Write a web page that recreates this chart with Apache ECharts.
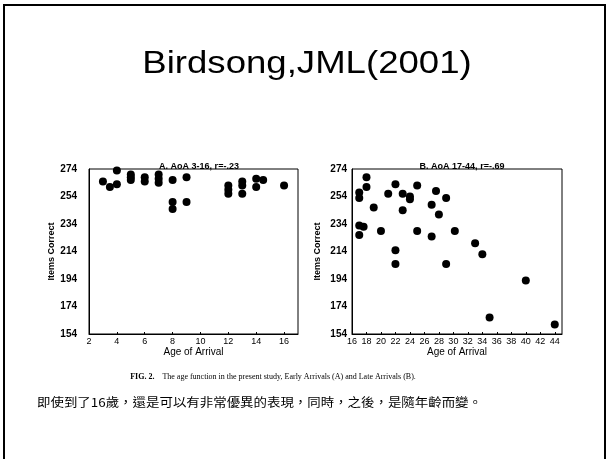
<!DOCTYPE html>
<html><head><meta charset="utf-8">
<script src="https://cdn.jsdelivr.net/npm/echarts@6/dist/echarts.min.js"></script>
<style>html,body{margin:0;padding:0;background:#fff}#c{width:609px;height:459px}</style>
</head><body><div id="c"></div>
<script>
// Panel A: Early arrivals (AoA 3-16)
var earlyAge = [3, 3.5, 4, 4, 5, 5, 5, 6, 6, 7, 7, 7, 8, 8, 8, 9, 9, 12, 12, 12, 13, 13, 13, 14, 14, 14.5, 16];
var earlyScore = [265, 261, 273, 263, 270, 268, 266, 268, 265, 270, 267, 264, 266, 250, 245, 268, 250, 262, 259, 256, 265, 262, 256, 267, 261, 266, 262];
// Panel B: Late arrivals (AoA 17-44)
var lateAge = [17, 17, 18, 18, 19, 17, 17.6, 17, 20, 21, 22, 22, 22, 23, 23, 24, 24, 25, 25, 27, 27, 27.6, 28, 29, 29, 30.2, 33, 34, 35, 40, 44];
var lateScore = [257, 253, 268, 261, 246, 233, 232, 226, 229, 256, 263, 215, 205, 256, 244, 254, 252, 262, 229, 248, 225, 258, 241, 253, 205, 229, 220, 212, 166, 193, 161];

var slideTitle = 'Birdsong,JML(2001)';
var panelTitles = ['A. AoA 3-16, r=-.23', 'B. AoA 17-44, r=-.69'];
var xName = 'Age of Arrival';
var yName = 'Items Correct';
var figCaptionBold = 'FIG. 2.';
var figCaption = 'The age function in the present study, Early Arrivals (A) and Late Arrivals (B).';
var noteText = '即使到了16歲，還是可以有非常優異的表現，同時，之後，是隨年齡而變。';

var yMin = 154, yMax = 274, yStep = 20;

function pairs(xs, ys) { return xs.map(function (x, i) { return [x, ys[i]]; }); }

var chart = echarts.init(document.getElementById('c'), null, {renderer: 'canvas'});
var font = 'Liberation Sans, Arial, sans-serif';
function xAxis(idx, min, max) {
  return {
    type: 'value', gridIndex: idx, min: min, max: max, interval: 2,
    name: xName, nameLocation: 'middle', nameGap: 13,
    nameTextStyle: {fontFamily: font, fontSize: 10, color: '#000'},
    axisLine: {show: true, lineStyle: {color: '#000', width: 1}},
    axisTick: {show: true, inside: true, length: 2, lineStyle: {color: '#000'}},
    axisLabel: {margin: 3, fontFamily: font, fontSize: 9, color: '#000', showMaxLabel: false},
    splitLine: {show: false}
  };
}
function yAxis(idx, margin, gap) {
  return {
    type: 'value', gridIndex: idx, min: yMin, max: yMax, interval: yStep,
    name: yName, nameLocation: 'middle', nameGap: gap, nameRotate: 90,
    nameTextStyle: {fontFamily: font, fontSize: 9, fontWeight: 'bold', color: '#000'},
    axisLine: {show: true, lineStyle: {color: '#000', width: 1}},
    axisTick: {show: false},
    axisLabel: {margin: margin, fontFamily: font, fontSize: 10, fontWeight: 'bold', color: '#000'},
    splitLine: {show: false}
  };
}

chart.setOption({
  animation: false,
  backgroundColor: '#fff',
  title: [
    {text: panelTitles[0], left: 194, top: 157, textAlign: 'center',
     textStyle: {fontFamily: font, fontSize: 9, fontWeight: 'bold', color: '#000'}},
    {text: panelTitles[1], left: 457, top: 157, textAlign: 'center',
     textStyle: {fontFamily: font, fontSize: 9, fontWeight: 'bold', color: '#000'}}
  ],
  grid: [
    {left: 89, top: 169, width: 209, height: 165, show: true, borderColor: '#000', borderWidth: 1, backgroundColor: 'transparent'},
    {left: 352, top: 169, width: 210, height: 165, show: true, borderColor: '#000', borderWidth: 1, backgroundColor: 'transparent'}
  ],
  xAxis: [xAxis(0, 2, 17), xAxis(1, 16, 45)],
  yAxis: [yAxis(0, 12, 28), yAxis(1, 5, 30)],
  series: [
    {type: 'scatter', xAxisIndex: 0, yAxisIndex: 0, data: pairs(earlyAge, earlyScore),
     symbolSize: 8, itemStyle: {color: '#000', opacity: 1}},
    {type: 'scatter', xAxisIndex: 1, yAxisIndex: 1, data: pairs(lateAge, lateScore),
     symbolSize: 8, itemStyle: {color: '#000', opacity: 1}}
  ],
  graphic: [
    {type: 'polyline', shape: {points: [[4, 459], [4, 5], [605, 5], [605, 459]]},
     style: {stroke: '#000', lineWidth: 2, fill: null}},
    {type: 'text', x: 307, y: 64, scaleX: 1.18, originX: 0, originY: 0,
     style: {text: slideTitle, font: '31px Liberation Sans, Arial, sans-serif', fill: '#000', textAlign: 'center', textVerticalAlign: 'middle'}},
    {type: 'text', x: 273, y: 377,
     style: {text: '{b|' + figCaptionBold + '}    ' + figCaption, textAlign: 'center', textVerticalAlign: 'middle',
       font: '8px Liberation Serif, Times New Roman, serif', fill: '#000',
       rich: {b: {fontFamily: 'Liberation Serif, serif', fontWeight: 'bold', fontSize: 8}}}},
    {type: 'text', x: 37, y: 402, scaleX: 1.12, originX: 0, originY: 0,
     style: {text: noteText, font: '12px "Noto Sans CJK TC", "Noto Sans CJK SC", sans-serif', fill: '#000', textAlign: 'left', textVerticalAlign: 'middle'}}
  ]
});
</script>
</body></html>
